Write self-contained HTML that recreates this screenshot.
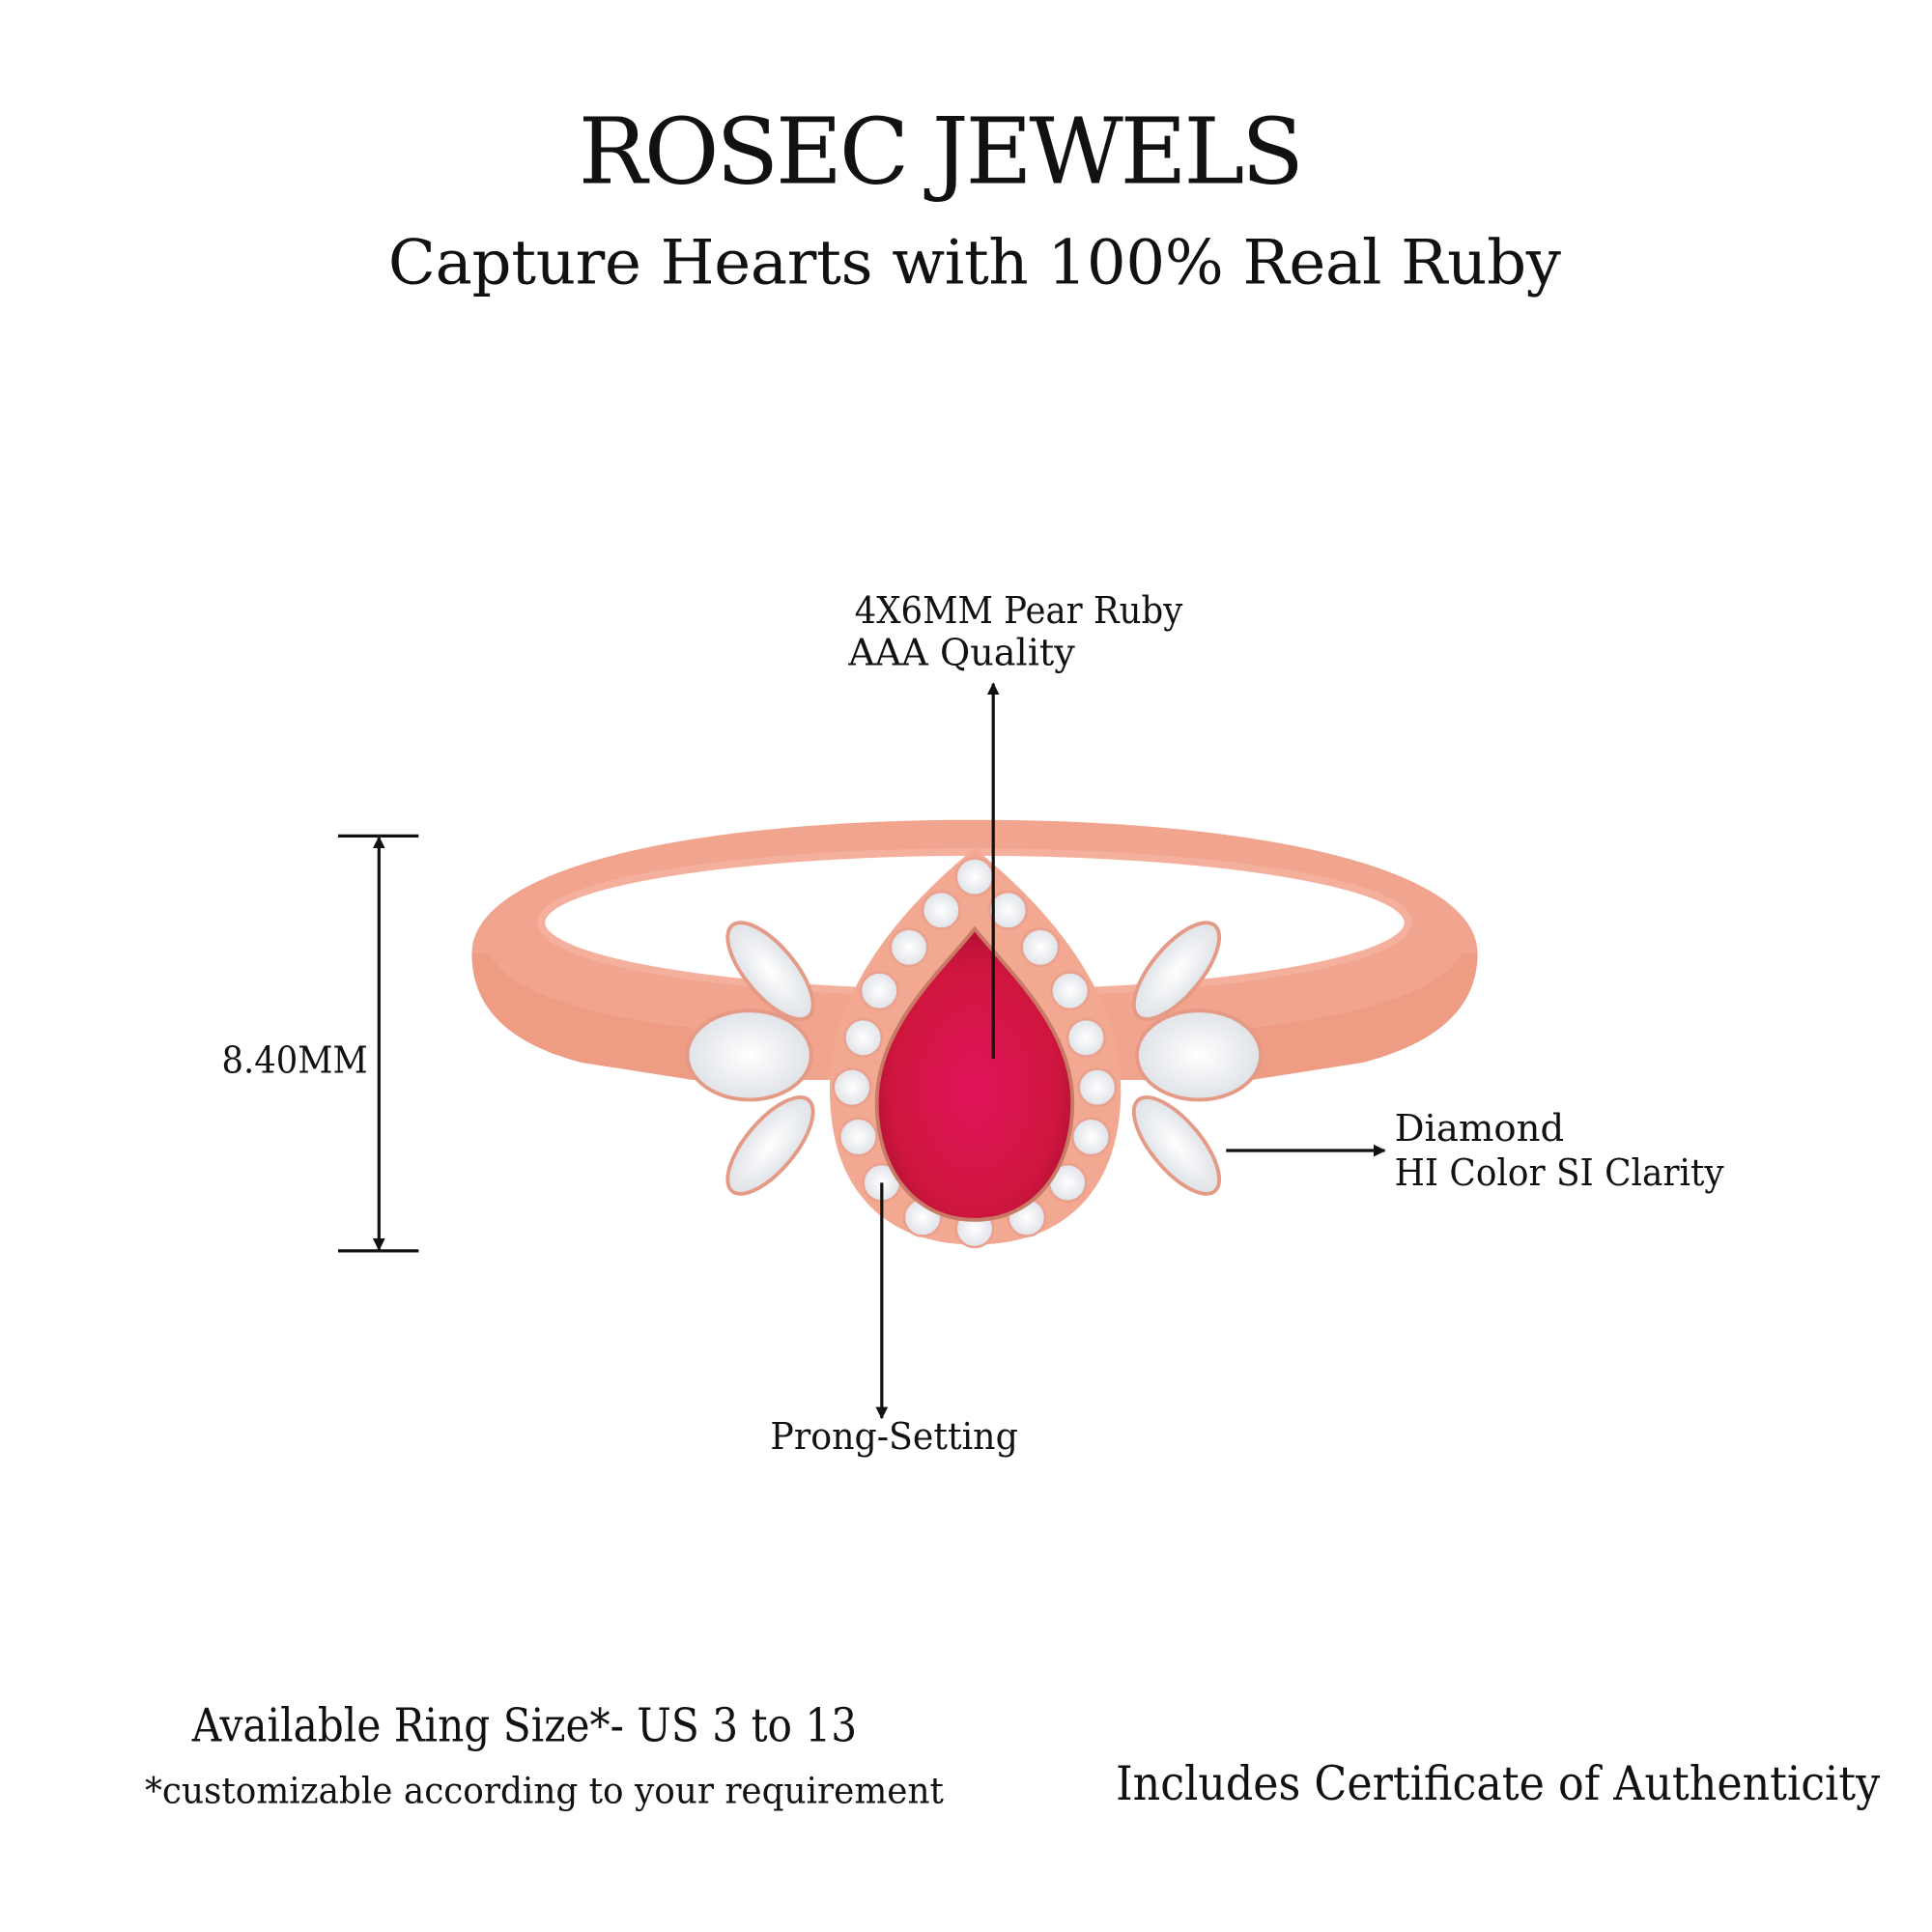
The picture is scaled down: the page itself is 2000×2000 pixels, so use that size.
<!DOCTYPE html>
<html><head><meta charset="utf-8"><style>
html,body{margin:0;padding:0;background:#fff;}
svg{display:block;}
text{font-family:"DejaVu Serif","Liberation Serif",serif;fill:#111;}
</style></head><body>
<svg width="2000" height="2000" viewBox="0 0 1560 1560" xmlns="http://www.w3.org/2000/svg">
<defs>
<marker id="ah" markerWidth="10" markerHeight="10" refX="9" refY="5" orient="auto" markerUnits="userSpaceOnUse"><path d="M0,0 L10,5 L0,10 z" fill="#111"/></marker>
<radialGradient id="rub" cx="50%" cy="55%" r="60%"><stop offset="0" stop-color="#e0135a"/><stop offset="0.7" stop-color="#d0163e"/><stop offset="1" stop-color="#a80d2f"/></radialGradient>
<radialGradient id="dia" cx="50%" cy="50%" r="60%"><stop offset="0" stop-color="#ffffff"/><stop offset="1" stop-color="#d9dde3"/></radialGradient>
</defs>
<text x="760" y="148" font-size="74" text-anchor="middle" textLength="586" lengthAdjust="spacing">ROSEC JEWELS</text>
<text x="787" y="229" font-size="50" text-anchor="middle" textLength="947" lengthAdjust="spacing">Capture Hearts with 100% Real Ruby</text>

<!-- ring band -->
<path d="M381,770 C381,700 560,662 787,662 C1014,662 1193,700 1193,770 C1193,820 1150,845 1100,858 L1010,872 L560,872 L470,858 C420,845 381,820 381,770 z" fill="#f2a58e"/>
<path d="M381,770 C381,820 420,845 470,858 L560,872 L560,830 C470,820 410,800 395,770 z" fill="#ee9c84"/>
<path d="M1193,770 C1193,820 1150,845 1100,858 L1010,872 L1010,830 C1100,820 1165,800 1180,770 z" fill="#ee9c84"/>
<ellipse cx="787" cy="745" rx="350" ry="57" fill="#fff" stroke="#f4b09c" stroke-width="6"/>

<!-- side marquise diamonds -->
<g fill="url(#dia)" stroke="#e59a86" stroke-width="3">
<ellipse cx="622" cy="784" rx="48" ry="20" transform="rotate(50 622 784)"/>
<ellipse cx="605" cy="852" rx="50" ry="36"/>
<ellipse cx="622" cy="925" rx="48" ry="20" transform="rotate(-50 622 925)"/>
<ellipse cx="950" cy="784" rx="48" ry="20" transform="rotate(-50 950 784)"/>
<ellipse cx="968" cy="852" rx="50" ry="36"/>
<ellipse cx="950" cy="925" rx="48" ry="20" transform="rotate(50 950 925)"/>
</g>
<!-- halo -->
<path d="M787,685 C830,720 905,790 905,880 C905,960 860,1005 787,1005 C714,1005 670,960 670,880 C670,790 744,720 787,685 z" fill="#f3a892"/>
<g fill="url(#dia)" stroke="#eaa08c" stroke-width="2">
<circle cx="787" cy="708" r="15"/><circle cx="760" cy="735" r="15"/><circle cx="814" cy="735" r="15"/>
<circle cx="734" cy="765" r="15"/><circle cx="840" cy="765" r="15"/><circle cx="710" cy="800" r="15"/><circle cx="864" cy="800" r="15"/>
<circle cx="697" cy="838" r="15"/><circle cx="877" cy="838" r="15"/><circle cx="688" cy="878" r="15"/><circle cx="886" cy="878" r="15"/>
<circle cx="693" cy="918" r="15"/><circle cx="881" cy="918" r="15"/><circle cx="712" cy="955" r="15"/><circle cx="862" cy="955" r="15"/>
<circle cx="745" cy="983" r="15"/><circle cx="829" cy="983" r="15"/><circle cx="787" cy="992" r="15"/>
</g>
<path d="M787,750 C815,785 866,830 866,890 C866,945 835,985 787,985 C739,985 708,945 708,890 C708,830 759,785 787,750 z" fill="url(#rub)" stroke="#c97a66" stroke-width="3"/>

<!-- arrows -->
<g stroke="#111" stroke-width="2.5" fill="none">
<line x1="802" y1="855" x2="802" y2="552" marker-end="url(#ah)"/>
<line x1="273" y1="675" x2="338" y2="675"/>
<line x1="273" y1="1010" x2="338" y2="1010"/>
<line x1="306" y1="685" x2="306" y2="676" marker-end="url(#ah)"/>
<line x1="306" y1="680" x2="306" y2="1009" marker-end="url(#ah)"/>
<line x1="990" y1="929" x2="1118" y2="929" marker-end="url(#ah)"/>
<line x1="712" y1="955" x2="712" y2="1145" marker-end="url(#ah)"/>
</g>

<text x="690" y="503" font-size="30" textLength="265" lengthAdjust="spacingAndGlyphs">4X6MM Pear Ruby</text>
<text x="685" y="537" font-size="30" textLength="183" lengthAdjust="spacingAndGlyphs">AAA Quality</text>
<text x="179" y="866" font-size="30" textLength="118" lengthAdjust="spacingAndGlyphs">8.40MM</text>
<text x="1126" y="921" font-size="30" textLength="137" lengthAdjust="spacingAndGlyphs">Diamond</text>
<text x="1126" y="957" font-size="30" textLength="266" lengthAdjust="spacingAndGlyphs">HI Color SI Clarity</text>
<text x="622" y="1170" font-size="30" textLength="200" lengthAdjust="spacingAndGlyphs">Prong-Setting</text>

<text x="155" y="1406" font-size="37" textLength="537" lengthAdjust="spacingAndGlyphs">Available Ring Size*- US 3 to 13</text>
<text x="117" y="1456" font-size="29" textLength="645" lengthAdjust="spacingAndGlyphs">*customizable according to your requirement</text>
<text x="901" y="1453" font-size="38" textLength="617" lengthAdjust="spacingAndGlyphs">Includes Certificate of Authenticity</text>
</svg>
</body></html>
